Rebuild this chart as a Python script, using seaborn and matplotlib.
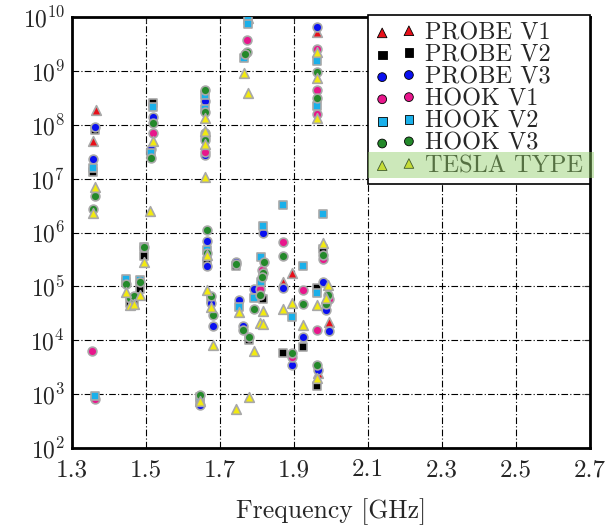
import numpy as np
import pandas as pd
import matplotlib
matplotlib.use("Agg")
import matplotlib.pyplot as plt
import seaborn as sns
from matplotlib.patches import Rectangle

sns.set_style("white")
plt.rcParams['font.family'] = ['cmr10', 'DejaVu Serif']
plt.rcParams['mathtext.fontset'] = 'cm'
plt.rcParams['axes.formatter.use_mathtext'] = True
plt.rcParams['axes.unicode_minus'] = False

series_names = ["PROBE V1", "PROBE V2", "PROBE V3", "HOOK V1", "HOOK V2", "HOOK V3", "TESLA TYPE"]

probe_v1_f = [1.365, 1.357, 1.776, 1.870, 1.895, 1.962, 1.995, 1.965]
probe_v1_v = [1.9e8, 5e7, 9.5e9, 1.2e5, 1.8e5, 5.3e9, 2.2e4, 2.5e3]

probe_v2_f = [1.362, 1.357, 1.446, 1.457, 1.468, 1.484, 1.495, 1.519, 1.665, 1.676, 1.646,
              1.743, 1.778, 1.816, 1.870, 1.924, 1.978, 1.962, 1.962]
probe_v2_v = [8e7, 1.3e7, 1.2e5, 5e4, 5e4, 9e4, 3.6e5, 2.5e8, 2.9e5, 5.9e4, 7e2,
              2.4e5, 1e4, 5.9e4, 5.9e3, 7.6e3, 5e5, 9.3e4, 1.4e3]

probe_v3_f = [1.362, 1.357, 1.519, 1.514, 1.659, 1.659, 1.665, 1.665, 1.676, 1.681, 1.646,
              1.743, 1.751, 1.762, 1.792, 1.816, 1.870, 1.895, 1.924, 1.962, 1.978, 1.986,
              1.995, 1.965]
probe_v3_v = [9e7, 2.3e7, 1.4e8, 3.5e7, 2.8e8, 2.8e7, 7e5, 2.4e5, 4.9e4, 1.8e4, 6.3e2,
              2.8e5, 5.6e4, 1.8e4, 9e4, 9.8e5, 9.4e4, 3.4e3, 1.15e4, 6.5e9, 1.2e5, 3.6e4,
              1.5e4, 2.8e3]

hook_v1_f = [1.354, 1.362, 1.519, 1.659, 1.659, 1.773, 1.814, 1.808, 1.870, 1.895, 1.924,
             1.962, 1.962, 1.962, 1.978, 1.995, 1.962]
hook_v1_v = [6.3e3, 8e2, 7e7, 5.9e7, 3.1e7, 3.7e9, 2e5, 9e4, 6.7e5, 4.9e3, 8.6e4,
             2.6e9, 4.4e8, 1.6e8, 3.2e5, 5.9e4, 1.55e4]

hook_v2_f = [1.362, 1.357, 1.446, 1.484, 1.495, 1.519, 1.514, 1.659, 1.659, 1.665, 1.646,
             1.751, 1.776, 1.776, 1.765, 1.816, 1.811, 1.811, 1.792, 1.870, 1.895, 1.924,
             1.962, 1.962, 1.978, 1.962]
hook_v2_v = [9.4e2, 1.6e7, 1.4e5, 1.3e5, 5.4e5, 2.1e8, 3e7, 3.6e8, 2e8, 4.8e5, 9e2,
             4.2e4, 8.8e9, 7.4e9, 1.7e9, 1.3e6, 3.5e5, 1.2e5, 6.2e4, 3.2e6, 2.7e4, 2.4e5,
             1.5e9, 2.2e8, 2.2e6, 7.6e4]

hook_v3_f = [1.362, 1.357, 1.446, 1.457, 1.468, 1.484, 1.495, 1.519, 1.514, 1.659, 1.659,
             1.659, 1.659, 1.665, 1.665, 1.676, 1.681, 1.646, 1.743, 1.762, 1.778, 1.773,
             1.768, 1.819, 1.816, 1.814, 1.808, 1.792, 1.870, 1.895, 1.924, 1.962, 1.962,
             1.978, 1.992, 1.986, 1.962]
hook_v3_v = [4.8e6, 2.7e6, 1.1e5, 6e4, 6.5e4, 1.2e5, 5.4e5, 1.07e8, 2.4e7, 4.5e8, 1.7e8,
             7e7, 5.2e7, 1.1e6, 4.2e5, 6.6e4, 2.9e4, 9.8e2, 2.6e5, 1.56e4, 1.15e4, 2.2e9,
             2.1e9, 2.8e5, 1.8e5, 1.5e5, 7e4, 3.8e4, 3.7e5, 5.9e3, 4.8e4, 9.5e8, 3.2e8,
             3.8e5, 7e4, 4.8e4, 3.5e3]

tesla_f = [1.362, 1.357, 1.446, 1.457, 1.468, 1.484, 1.495, 1.519, 1.511, 1.659, 1.659,
           1.659, 1.659, 1.665, 1.665, 1.676, 1.681, 1.646, 1.751, 1.792, 1.778, 1.743,
           1.765, 1.776, 1.816, 1.808, 1.816, 1.870, 1.895, 1.924, 1.962, 1.962, 1.962,
           1.978, 1.992, 1.986, 1.962, 1.962]
tesla_v = [7e6, 2.3e6, 8e4, 4.5e4, 4.8e4, 7e4, 2.8e5, 5e7, 2.5e6, 1.35e8, 7.6e7,
           4.4e7, 1.07e7, 3.8e5, 8.7e4, 4.2e4, 8e3, 7.6e2, 3.4e4, 6.3e3, 8.9e2, 5.4e2,
           9e8, 3.9e8, 3.5e4, 2.1e4, 2e4, 3.8e4, 4.9e4, 1.9e4, 2.2e9, 7.4e8, 1.35e8,
           6.5e5, 1.07e5, 6e4, 4.6e4, 2e3]

x_ticks = [1.3, 1.5, 1.7, 1.9, 2.1, 2.3, 2.5, 2.7]

freqs = [probe_v1_f, probe_v2_f, probe_v3_f, hook_v1_f, hook_v2_f, hook_v3_f, tesla_f]
vals = [probe_v1_v, probe_v2_v, probe_v3_v, hook_v1_v, hook_v2_v, hook_v3_v, tesla_v]
colors = ["#e8101a", "#000000", "#0a10f0", "#e8168c", "#1ab0ea", "#24892a", "#f2ea10"]
markers = ["^", "s", "o", "o", "s", "o", "^"]

fig = plt.figure(figsize=(6.05, 5.26), dpi=100)
ax = fig.add_axes([72/605, 1-448/526, (590-72)/605, (448-17)/526])

for name, f, v, c, m in zip(series_names, freqs, vals, colors, markers):
    df = pd.DataFrame({"Frequency": f, "Value": v})
    sns.scatterplot(data=df, x="Frequency", y="Value", ax=ax, color=c, marker=m,
                    s=40 if m != "^" else 48, edgecolor="#a8a8a8", linewidth=1.2,
                    label=name, zorder=3)

ax.set_yscale("log")
ax.set_ylim(1e2, 1e10)
ax.set_xlim(1.3, 2.7)
ax.set_xticks(x_ticks)
ax.set_xticklabels([f"{t:.1f}" for t in x_ticks])
ax.set_yticks([10**k for k in range(2, 11)])
ax.yaxis.set_minor_locator(matplotlib.ticker.NullLocator())
ax.grid(True, which="major", color="black", linestyle=(0, (6, 2, 1, 2)), linewidth=0.8)
ax.set_axisbelow(True)
ax.tick_params(direction="in", length=4, width=0.8, top=True, right=True)
ax.tick_params(axis="x", labelsize=18, pad=8)
ax.tick_params(axis="y", labelsize=17, pad=5)
ax.set_xlabel("Frequency [GHz]", fontsize=18.5, labelpad=12)
ax.set_ylabel("")
for sp in ax.spines.values():
    sp.set_linewidth(2.0)
    sp.set_color("black")

leg = ax.legend(loc="upper right", bbox_to_anchor=(1.0, 1.005), borderaxespad=0,
                scatterpoints=2, fontsize=17.5, frameon=True, fancybox=False,
                edgecolor="black", framealpha=1, labelspacing=0.0,
                handletextpad=0.35, borderpad=0.3, handlelength=1.7)
leg.get_frame().set_linewidth(1.2)
leg.set_zorder(10)
for h in leg.legend_handles:
    h.set_edgecolor("black")
    h.set_linewidth(0.6)

fig.canvas.draw()
renderer = fig.canvas.get_renderer()
inv = ax.transAxes.inverted()
lb = leg.get_frame().get_window_extent(renderer)
tb = leg.get_texts()[-1].get_window_extent(renderer)
yc = (tb.y0 + tb.y1) / 2
(x0, y0) = inv.transform((lb.x0, yc - 12.5))
(x1, y1) = inv.transform((lb.x1 + 4, yc + 13.5))
rect = Rectangle((x0, y0), x1 - x0, y1 - y0, transform=ax.transAxes,
                 facecolor="#8fcc66", alpha=0.45, edgecolor="none",
                 zorder=11, clip_on=False)
ax.add_patch(rect)

fig.savefig("out.png", dpi=100)
